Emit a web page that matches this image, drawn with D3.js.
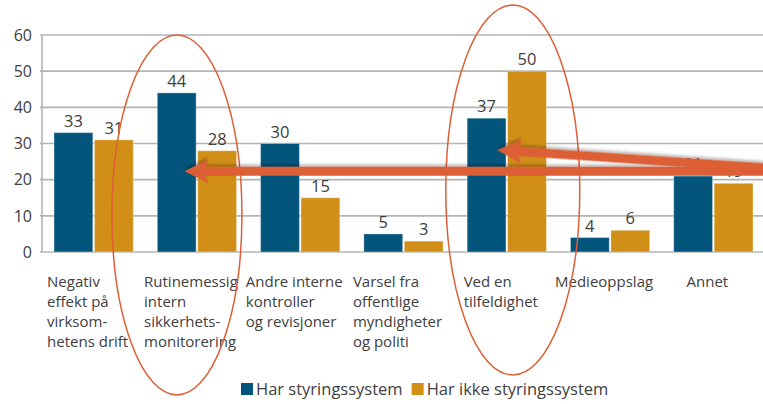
<!DOCTYPE html>
<html>
<head>
<meta charset="utf-8">
<script src="https://cdn.jsdelivr.net/npm/d3@7"></script>
<style>
  body { margin: 0; background: #fff; overflow: hidden; }
  svg { display: block; font-family: "Open Sans", sans-serif; }
</style>
</head>
<body>
<script>
// categories (one array of lines per label)
var categories = [
  ["Negativ", "effekt på", "virksom-", "hetens drift"],
  ["Rutinemessig", "intern", "sikkerhets-", "monitorering"],
  ["Andre interne", "kontroller", "og revisjoner"],
  ["Varsel fra", "offentlige", "myndigheter", "og politi"],
  ["Ved en", "tilfeldighet"],
  ["Medieoppslag"],
  ["Annet"]
];
var seriesNames = ["Har styringssystem", "Har ikke styringssystem"];
var harSystem = [33, 44, 30, 5, 37, 4, 21];
var harIkkeSystem = [31, 28, 15, 3, 50, 6, 19];
var yTicks = [0, 10, 20, 30, 40, 50, 60];
var colors = ["#03557c", "#d18f18"];

var width = 763, height = 404;
var svg = d3.select("body").append("svg")
  .attr("width", width)
  .attr("height", height);

var defs = svg.append("defs");
defs.append("filter").attr("id", "shadow")
  .attr("x", "-10%").attr("y", "-50%").attr("width", "120%").attr("height", "200%")
  .append("feDropShadow")
  .attr("dx", 1).attr("dy", 2).attr("stdDeviation", 1.5)
  .attr("flood-color", "#000").attr("flood-opacity", 0.3);

var keys = categories.map(function(c, i) { return "c" + i; });

// plot is wider than the window: the last group gets cut on the right
var x0 = d3.scaleBand().domain(keys).range([42, 765]).padding(0);
var x1 = d3.scaleBand().domain([0, 1]).range([12, x0.bandwidth() - 12]).paddingInner(0.04);
var y = d3.scaleLinear().domain([0, 60]).range([252, 35]);

// grid
svg.append("g").selectAll("line")
  .data(yTicks)
  .enter().append("line")
  .attr("x1", 40).attr("x2", width)
  .attr("y1", function(d) { return y(d); })
  .attr("y2", function(d) { return y(d); })
  .attr("stroke", "#b4b4b4")
  .attr("stroke-width", 1.6);
svg.append("line")
  .attr("x1", 42).attr("x2", 42)
  .attr("y1", y(60)).attr("y2", y(0))
  .attr("stroke", "#b4b4b4").attr("stroke-width", 1.6);

// y labels
svg.append("g").selectAll("text")
  .data(yTicks)
  .enter().append("text")
  .attr("x", 32)
  .attr("y", function(d) { return y(d); })
  .attr("dy", "0.36em")
  .attr("text-anchor", "end")
  .attr("font-size", 16)
  .attr("fill", "#404040")
  .text(function(d) { return d; });

// bars
var rows = keys.map(function(k, i) { return { key: k, vals: [harSystem[i], harIkkeSystem[i]] }; });
var groups = svg.append("g").selectAll("g")
  .data(rows)
  .enter().append("g")
  .attr("transform", function(d) { return "translate(" + x0(d.key) + ",0)"; });

groups.selectAll("rect")
  .data(function(d) { return d.vals.map(function(v, s) { return { s: s, v: v }; }); })
  .enter().append("rect")
  .attr("x", function(d) { return x1(d.s); })
  .attr("width", x1.bandwidth())
  .attr("y", function(d) { return y(d.v); })
  .attr("height", function(d) { return y(0) - y(d.v); })
  .attr("fill", function(d) { return colors[d.s]; })
  .attr("stroke", "#ffffff")
  .attr("stroke-opacity", 0.35)
  .attr("stroke-width", 1);

groups.selectAll("text")
  .data(function(d) { return d.vals.map(function(v, s) { return { s: s, v: v }; }); })
  .enter().append("text")
  .attr("x", function(d) { return x1(d.s) + x1.bandwidth() / 2; })
  .attr("y", function(d) { return y(d.v) - 6; })
  .attr("text-anchor", "middle")
  .attr("font-size", 16.5)
  .attr("fill", "#404040")
  .text(function(d) { return d.v; });

// category labels: left aligned lines, block roughly centred in the band
var catLabels = svg.append("g").selectAll("text")
  .data(rows)
  .enter().append("text")
  .attr("font-size", 15)
  .attr("fill", "#404040");
catLabels.each(function(d, i) {
  var t = d3.select(this);
  categories[i].forEach(function(line, j) {
    t.append("tspan").attr("x", 0).attr("y", 287 + j * 20).text(line);
  });
  var w = this.getBBox().width;
  t.attr("transform", "translate(" + (x0(d.key) + x0.bandwidth() / 2 - w / 2 - 6) + ",0)");
});

// legend
var legend = svg.append("g").attr("transform", "translate(241,383)");
var lx = 0;
seriesNames.forEach(function(name, i) {
  legend.append("rect").attr("x", lx).attr("y", 0).attr("width", 12).attr("height", 12).attr("fill", colors[i]);
  var t = legend.append("text").attr("x", lx + 15).attr("y", 11.5)
    .attr("font-size", 16.5).attr("fill", "#404040").text(name);
  lx += 15 + t.node().getComputedTextLength() + 9;
});

// annotations: ellipses around categories 2 and 5, arrows pointing into them
var red = "#dc5f36";
var ell = svg.append("g").attr("fill", "none").attr("stroke", red).attr("stroke-width", 1.5);
ell.append("ellipse")
  .attr("cx", x0("c1") + x0.bandwidth() / 2 - 20).attr("cy", 215)
  .attr("rx", 65).attr("ry", 180);
ell.append("ellipse")
  .attr("cx", x0("c4") + x0.bandwidth() / 2 + 6).attr("cy", 190)
  .attr("rx", 67).attr("ry", 185);

function arrow(xs, ys, xt, yt) {
  var a = Math.atan2(yt - ys, xt - xs);
  var len = Math.hypot(xt - xs, yt - ys);
  var g = svg.append("g")
    .attr("transform", "translate(" + xt + "," + yt + ") rotate(" + (a * 180 / Math.PI) + ")")
    .attr("filter", "url(#shadow)");
  g.append("path")
    .attr("d", "M0,0 L-24,-12 L-21,-4.5 L" + (-len) + ",-4.5 L" + (-len) + ",4.5 L-21,4.5 L-24,12 Z")
    .attr("fill", red);
}
arrow(800, y(22.3), x0("c1") + x1(0) + x1.bandwidth() * 0.7, y(22.3));
arrow(800, y(22.6), x0("c4") + x1(0) + x1.bandwidth() * 0.78, y(28.2));
</script>
</body>
</html>
